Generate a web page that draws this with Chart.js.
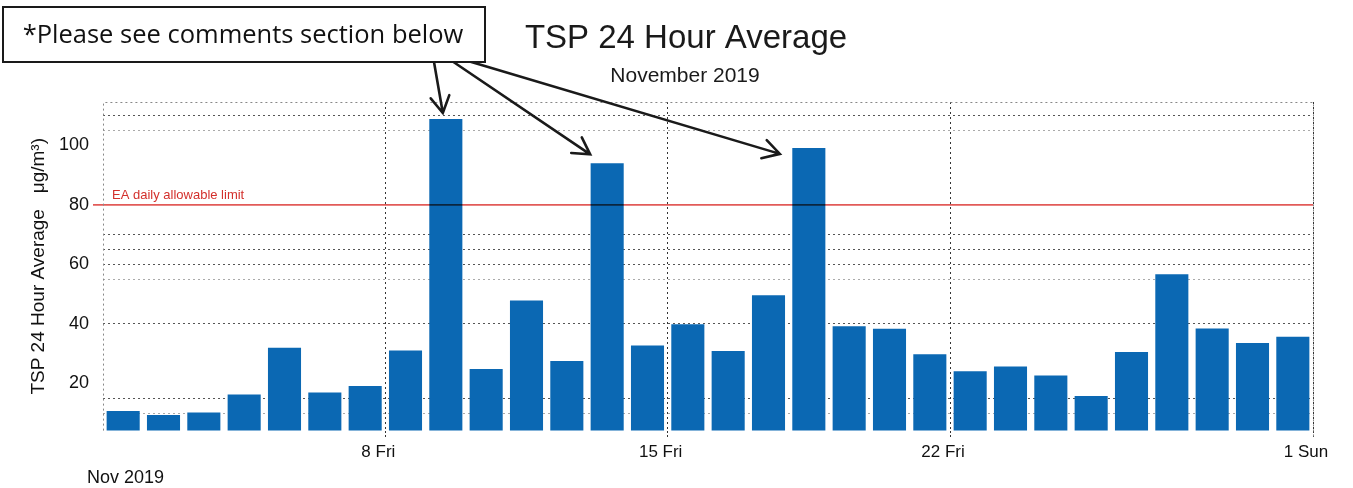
<!DOCTYPE html>
<html>
<head>
<meta charset="utf-8">
<script src="https://cdn.jsdelivr.net/npm/chart.js@4.4.0/dist/chart.umd.min.js"></script>
<style>
  html, body { margin: 0; padding: 0; background: #fff; }
  #wrap { width: 1353px; height: 488px; }
</style>
</head>
<body>
<div id="wrap"><canvas id="tspChart"></canvas></div>
<script>
// TSP daily averages, November 2019
const days = ['1', '2', '3', '4', '5', '6', '7', '8', '9', '10',
              '11', '12', '13', '14', '15', '16', '17', '18', '19', '20',
              '21', '22', '23', '24', '25', '26', '27', '28', '29', '30'];
const tspValues = [10.8, 9.4, 10.3, 16.3, 32.0, 17.0, 19.2, 31.1, 108.8, 24.9,
                   47.9, 27.6, 93.9, 32.8, 39.9, 30.9, 49.6, 99.1, 39.2, 38.4,
                   29.8, 24.1, 25.7, 22.7, 15.8, 30.6, 56.7, 38.5, 33.6, 35.7];

const xTickDays = [7, 14, 21, 30];
const xTickLabels = ['8 Fri', '15 Fri', '22 Fri', '1 Sun'];
const yTickLabels = [20, 40, 60, 80, 100];
const yGridDark = [15, 40, 60, 65, 70, 110];
const yGridLight = [10, 55, 105];

const limitValue = 80;
const limitLabel = 'EA daily allowable limit';
const flaggedDays = ['9', '13', '18'];

const titleText = 'TSP 24 Hour Average';
const subtitleText = 'November 2019';
const calloutText = '*Please see comments section below';
const periodText = 'Nov 2019';

const FONT = '"Liberation Sans", Arial, sans-serif';
Chart.defaults.font.family = FONT;
Chart.defaults.color = '#111';

function arrow(ctx, x1, y1, x2, y2) {
  const a = Math.atan2(y2 - y1, x2 - x1), h = 19, s = 0.52;
  ctx.beginPath();
  ctx.moveTo(x1, y1);
  ctx.lineTo(x2, y2);
  ctx.moveTo(x2 - h * Math.cos(a - s), y2 - h * Math.sin(a - s));
  ctx.lineTo(x2, y2);
  ctx.lineTo(x2 - h * Math.cos(a + s), y2 - h * Math.sin(a + s));
  ctx.stroke();
}

const extras = {
  id: 'extras',
  afterDatasetsDraw(chart) {
    const {ctx, chartArea: a, scales: {y}} = chart;
    const py = y.getPixelForValue(limitValue);
    ctx.save();
    ctx.globalCompositeOperation = 'multiply';
    ctx.strokeStyle = '#e25b58';
    ctx.lineWidth = 1.8;
    ctx.beginPath();
    ctx.moveTo(a.left - 10, py);
    ctx.lineTo(a.right, py);
    ctx.stroke();
    ctx.restore();

    ctx.save();
    ctx.fillStyle = '#d3302c';
    ctx.font = '13px ' + FONT;
    ctx.textBaseline = 'alphabetic';
    ctx.fillText(limitLabel, a.left + 9, py - 6);
    ctx.restore();
  },
  afterDraw(chart) {
    const {ctx, chartArea: a} = chart;
    ctx.save();

    // dotted plot frame
    ctx.strokeStyle = '#888';
    ctx.lineWidth = 1;
    ctx.setLineDash([2, 3]);
    ctx.beginPath();
    ctx.moveTo(a.left + 0.5, a.bottom);
    ctx.lineTo(a.left + 0.5, a.top + 0.5);
    ctx.lineTo(a.right + 0.5, a.top + 0.5);
    ctx.lineTo(a.right + 0.5, a.bottom + 6);
    ctx.stroke();
    ctx.setLineDash([]);

    // titles
    ctx.fillStyle = '#1a1a1a';
    ctx.textAlign = 'center';
    ctx.textBaseline = 'middle';
    ctx.font = '33px ' + FONT;
    ctx.fillText(titleText, 686, 39);
    ctx.font = '21px ' + FONT;
    ctx.fillText(subtitleText, 685, 76);

    // period label bottom-left
    ctx.textAlign = 'left';
    ctx.font = '18px ' + FONT;
    ctx.fillStyle = '#111';
    ctx.fillText(periodText, 87, 478);

    // arrows to flagged bars
    const meta = chart.getDatasetMeta(0);
    const starts = [[434, 62], [452, 61], [468, 61]];
    const offsets = [[-3, -6], [-17, -9], [-29, 6]];
    ctx.strokeStyle = '#1a1a1a';
    ctx.lineWidth = 2.6;
    ctx.lineCap = 'round';
    flaggedDays.forEach((d, k) => {
      const bar = meta.data[days.indexOf(d)];
      arrow(ctx, starts[k][0], starts[k][1], bar.x + offsets[k][0], bar.y + offsets[k][1]);
    });

    // callout box
    ctx.fillStyle = '#fff';
    ctx.fillRect(3, 7, 482, 55);
    ctx.lineWidth = 2;
    ctx.strokeStyle = '#1a1a1a';
    ctx.strokeRect(3, 7, 482, 55);
    let size = 26;
    ctx.font = size + 'px "Open Sans", sans-serif';
    size = size * 440 / ctx.measureText(calloutText).width;
    ctx.font = size.toFixed(1) + 'px "Open Sans", sans-serif';
    ctx.fillStyle = '#111';
    ctx.textAlign = 'center';
    ctx.textBaseline = 'middle';
    ctx.fillText(calloutText, 243, 36);

    ctx.restore();
  }
};

const chart = new Chart(document.getElementById('tspChart'), {
  type: 'bar',
  data: {
    labels: days,
    datasets: [{
      label: 'TSP 24 Hour Average',
      data: tspValues,
      backgroundColor: '#0b68b3',
      borderColor: '#4a8fcf',
      borderWidth: 0,
      categoryPercentage: 1,
      barPercentage: 0.82
    }]
  },
  options: {
    responsive: true,
    maintainAspectRatio: false,
    animation: false,
    layout: { padding: { top: 102, right: 40, bottom: 21, left: 0 } },
    plugins: {
      legend: { display: false },
      title: { display: false },
      tooltip: { enabled: false }
    },
    scales: {
      x: { display: false, offset: true },
      x2: {
        type: 'linear',
        position: 'bottom',
        min: 0,
        max: 30,
        offset: false,
        afterBuildTicks: s => { s.ticks = xTickDays.map(v => ({ value: v })); },
        border: { display: false, dash: [2, 3] },
        grid: { offset: false, color: '#333', tickColor: '#333', tickLength: 8, tickBorderDash: [2, 2] },
        ticks: {
          autoSkip: false,
          maxRotation: 0,
          padding: 4,
          labelOffset: -7,
          font: { size: 17 },
          callback: v => xTickLabels[xTickDays.indexOf(v)]
        }
      },
      y: {
        min: 4.2,
        max: 114.5,
        afterBuildTicks: s => {
          const vals = [...new Set([...yTickLabels, ...yGridDark, ...yGridLight])].sort((p, q) => p - q);
          s.ticks = vals.map(v => ({ value: v }));
        },
        afterFit: s => { s.width = 103; },
        border: { display: false, dash: [2, 3] },
        grid: {
          drawTicks: false,
          color: c => {
            const v = c.tick && c.tick.value;
            if (yGridDark.includes(v)) return '#555';
            if (yGridLight.includes(v)) return '#aaa';
            return 'rgba(0,0,0,0)';
          }
        },
        ticks: {
          autoSkip: false,
          padding: 14,
          font: { size: 18 },
          callback: v => yTickLabels.includes(v) ? v : ''
        },
        title: {
          display: true,
          text: 'TSP 24 Hour Average   \u03bcg/m\u00b3)',
          font: { size: 19 },
          padding: { top: 27, bottom: 0 }
        }
      }
    }
  },
  plugins: [extras]
});
</script>
</body>
</html>
